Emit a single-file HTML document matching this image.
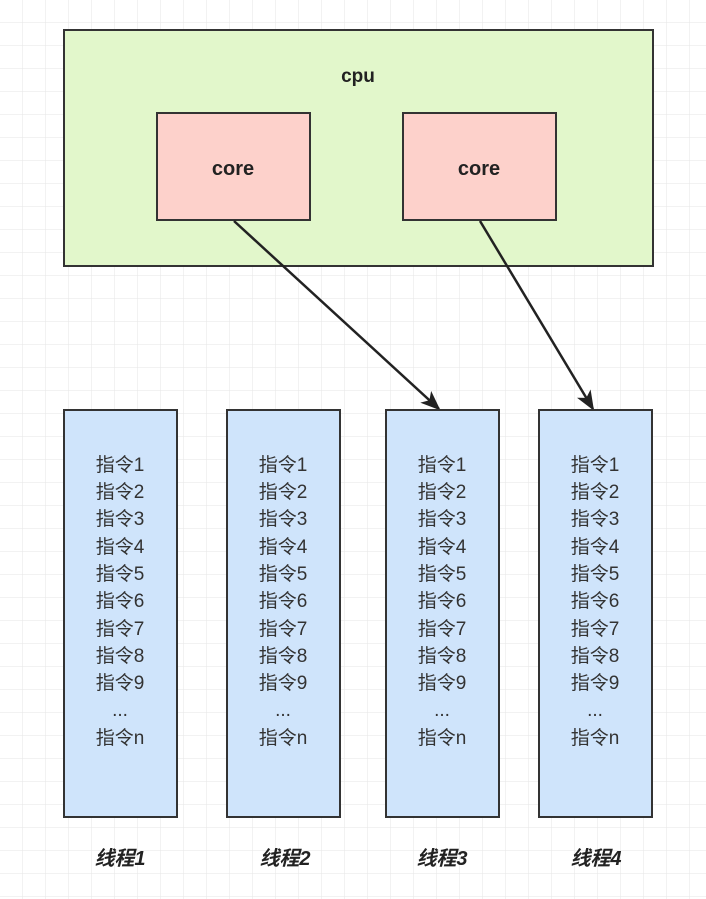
<!DOCTYPE html>
<html><head><meta charset="utf-8"><style>
html,body{margin:0;padding:0;background:#fff}
svg{display:block}
text{font-family:"Liberation Sans","Noto Sans CJK SC",sans-serif}
</style></head><body>
<svg width="706" height="899" xmlns="http://www.w3.org/2000/svg">
<defs>
<pattern id="g" width="23" height="23" patternUnits="userSpaceOnUse" x="0" y="0">
<path d="M23 0V23M0 23H23" fill="none" stroke="#e6e6e6" stroke-width="1"/>
</pattern>
<marker id="ar" markerWidth="20" markerHeight="16" refX="18" refY="8" orient="auto" markerUnits="userSpaceOnUse">
<path d="M0,0 L20,8 L0,16 L5,8 Z" fill="#222"/>
</marker>
</defs>
<rect width="706" height="899" fill="url(#g)"/>
<rect x="64" y="30" width="589" height="236" fill="#e2f7cb" stroke="#333" stroke-width="2"/>
<text x="358" y="82" font-size="19" font-weight="bold" text-anchor="middle" fill="#222">cpu</text>
<rect x="157" y="113" width="153" height="107" fill="#fdd1cb" stroke="#333" stroke-width="2"/>
<text x="233" y="175" font-size="20" font-weight="bold" text-anchor="middle" fill="#222">core</text>
<rect x="403" y="113" width="153" height="107" fill="#fdd1cb" stroke="#333" stroke-width="2"/>
<text x="479" y="175" font-size="20" font-weight="bold" text-anchor="middle" fill="#222">core</text>
<line x1="234" y1="221" x2="439" y2="409" stroke="#222" stroke-width="2.5" marker-end="url(#ar)"/>
<line x1="480" y1="221" x2="593" y2="409" stroke="#222" stroke-width="2.5" marker-end="url(#ar)"/>
<g fill="#cfe4fb" stroke="#333" stroke-width="2">
<rect x="64" y="410" width="113" height="407"/>
<rect x="227" y="410" width="113" height="407"/>
<rect x="386" y="410" width="113" height="407"/>
<rect x="539" y="410" width="113" height="407"/>
</g>
<g font-size="19" fill="#333" text-anchor="middle">
<text x="120" y="471">指令1</text><text x="120" y="498">指令2</text><text x="120" y="525">指令3</text><text x="120" y="553">指令4</text><text x="120" y="580">指令5</text><text x="120" y="607">指令6</text><text x="120" y="635">指令7</text><text x="120" y="662">指令8</text><text x="120" y="689">指令9</text><text x="120" y="716">...</text><text x="120" y="744">指令n</text>
<text x="283" y="471">指令1</text><text x="283" y="498">指令2</text><text x="283" y="525">指令3</text><text x="283" y="553">指令4</text><text x="283" y="580">指令5</text><text x="283" y="607">指令6</text><text x="283" y="635">指令7</text><text x="283" y="662">指令8</text><text x="283" y="689">指令9</text><text x="283" y="716">...</text><text x="283" y="744">指令n</text>
<text x="442" y="471">指令1</text><text x="442" y="498">指令2</text><text x="442" y="525">指令3</text><text x="442" y="553">指令4</text><text x="442" y="580">指令5</text><text x="442" y="607">指令6</text><text x="442" y="635">指令7</text><text x="442" y="662">指令8</text><text x="442" y="689">指令9</text><text x="442" y="716">...</text><text x="442" y="744">指令n</text>
<text x="595" y="471">指令1</text><text x="595" y="498">指令2</text><text x="595" y="525">指令3</text><text x="595" y="553">指令4</text><text x="595" y="580">指令5</text><text x="595" y="607">指令6</text><text x="595" y="635">指令7</text><text x="595" y="662">指令8</text><text x="595" y="689">指令9</text><text x="595" y="716">...</text><text x="595" y="744">指令n</text>
</g>
<g font-size="20" font-weight="bold" font-style="italic" fill="#222" text-anchor="middle">
<text x="120" y="865">线程1</text><text x="285" y="865">线程2</text><text x="442" y="865">线程3</text><text x="596" y="865">线程4</text>
</g>
</svg>
</body></html>
